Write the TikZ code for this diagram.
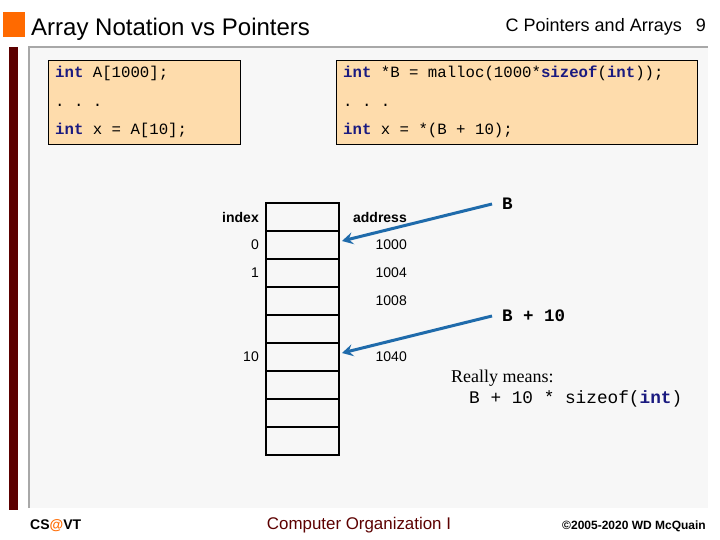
\documentclass[tikz,border=0pt]{standalone}
\usepackage{fontspec}
\setmainfont{Liberation Sans}
\setmonofont{Liberation Mono}
\newfontfamily\serifont{Liberation Serif}
\usepackage{xcolor}
\usetikzlibrary{arrows.meta,positioning}
\definecolor{slideorange}{HTML}{FF6A00}
\definecolor{barred}{HTML}{5C0000}
\definecolor{panelgray}{HTML}{F7F7F7}
\definecolor{linegray}{HTML}{A8A8A8}
\definecolor{codepeach}{HTML}{FEDCAC}
\definecolor{kwblue}{HTML}{1A1A80}
\definecolor{ptrblue}{HTML}{1F6BAB}
\newcommand{\kw}[1]{\textcolor{kwblue}{\textbf{#1}}}
\tikzset{
codebox/.style={
draw,
fill=codepeach,
anchor=north west,
minimum height=84pt,
inner xsep=7pt,
align=flush left,
font=\fontsize{15.7}{28.5}\selectfont\ttfamily
},
cell/.style={
draw,
line width=1.6pt,
minimum width=73pt,
minimum height=28pt,
inner sep=0pt,
outer sep=0pt
},
lab/.style={
inner sep=0pt,
font=\fontsize{14}{16}\selectfont
},
ptr/.style={
line width=3pt,
ptrblue,
-{Stealth[length=11pt,width=12pt,inset=4pt]}
}
}

\begin{document}
\begin{tikzpicture}[x=1pt,y=-1pt]
\useasboundingbox (0,0) rectangle (720,540);

% slide frame
\fill[slideorange] (3,12) rectangle (25,37);
\fill[barred] (9,47) rectangle (18,510);
\fill[panelgray] (29,47) rectangle (708,508);
\draw[linegray,line width=2pt] (29,508) -- (29,47) -- (708,47);

\node (title) [anchor=west,inner sep=0pt,font=\fontsize{24}{26}\selectfont] at (31,29) {Array Notation vs Pointers};
\node (topic) [anchor=east,inner sep=0pt,font=\fontsize{18}{20}\selectfont] at (706,27) {C Pointers and Arrays\hspace{14pt}9};

% code
\node (arraycode) [codebox, minimum width=192pt, text width=178pt] at (48,60) {
\kw{int} A[1000];\\
. . .\\
\kw{int} x = A[10];
};
\node (ptrcode) [codebox, minimum width=361pt, text width=347pt] at (336,60) {
\kw{int} *B = malloc(1000*\kw{sizeof}(\kw{int}));\\
. . .\\
\kw{int} x = *(B + 10);
};

% memory column
\node (c0) [cell] at (302.5,217) {};
\node (c1) [cell, below=0pt of c0] {};
\node (c2) [cell, below=0pt of c1] {};
\node (c3) [cell, below=0pt of c2] {};
\node (c4) [cell, below=0pt of c3] {};
\node (c5) [cell, below=0pt of c4] {};
\node (c6) [cell, below=0pt of c5] {};
\node (c7) [cell, below=0pt of c6] {};
\node (c8) [cell, below=0pt of c7] {};

\node (index) [lab, font=\fontsize{14}{16}\selectfont\bfseries, left=7pt of c0] {index};
\node (i0) [lab, left=7pt of c1] {0};
\node (i1) [lab, left=7pt of c2] {1};
\node (i10) [lab, left=7pt of c5] {10};

\node (address) [lab, font=\fontsize{14}{16}\selectfont\bfseries, anchor=east] at ([xshift=68pt]c0.east) {address};
\node (a0) [lab, anchor=east] at ([xshift=68pt]c1.east) {1000};
\node (a1) [lab, anchor=east] at ([xshift=68pt]c2.east) {1004};
\node (a2) [lab, anchor=east] at ([xshift=68pt]c3.east) {1008};
\node (a10) [lab, anchor=east] at ([xshift=68pt]c5.east) {1040};

% pointers
\node (B) [anchor=west, inner xsep=10pt, font=\fontsize{17.5}{20}\selectfont\ttfamily\bfseries] at (492,204) {B};
\node (B10) [anchor=west, inner xsep=10pt, font=\fontsize{17.5}{20}\selectfont\ttfamily\bfseries] at (492,316) {B + 10};

\draw [ptr] (B.west) -- ([xshift=3pt,yshift=4pt]c1.east);
\draw [ptr] (B10.west) -- ([xshift=3pt,yshift=4pt]c5.east);

\node (means) [anchor=west, inner sep=0pt, font=\fontsize{18}{20}\selectfont\serifont] at (451,378) {Really means:};
\node (meanscode) [anchor=west, inner sep=0pt, font=\fontsize{17.75}{20}\selectfont\ttfamily] at (469,399) {B + 10 * sizeof(\kw{int})};

% footer
\node (dept) [anchor=west, inner sep=0pt, font=\fontsize{14}{16}\selectfont\bfseries] at (30,526) {CS\textcolor{slideorange}{@}VT};
\node (course) [inner sep=0pt, text=barred, font=\fontsize{16.9}{19}\selectfont] at (359,525) {Computer Organization I};
\node (copy) [anchor=east, inner sep=0pt, font=\fontsize{12}{14}\selectfont\bfseries] at (706,526) {©2005-2020 WD McQuain};

\end{tikzpicture}
\end{document}
